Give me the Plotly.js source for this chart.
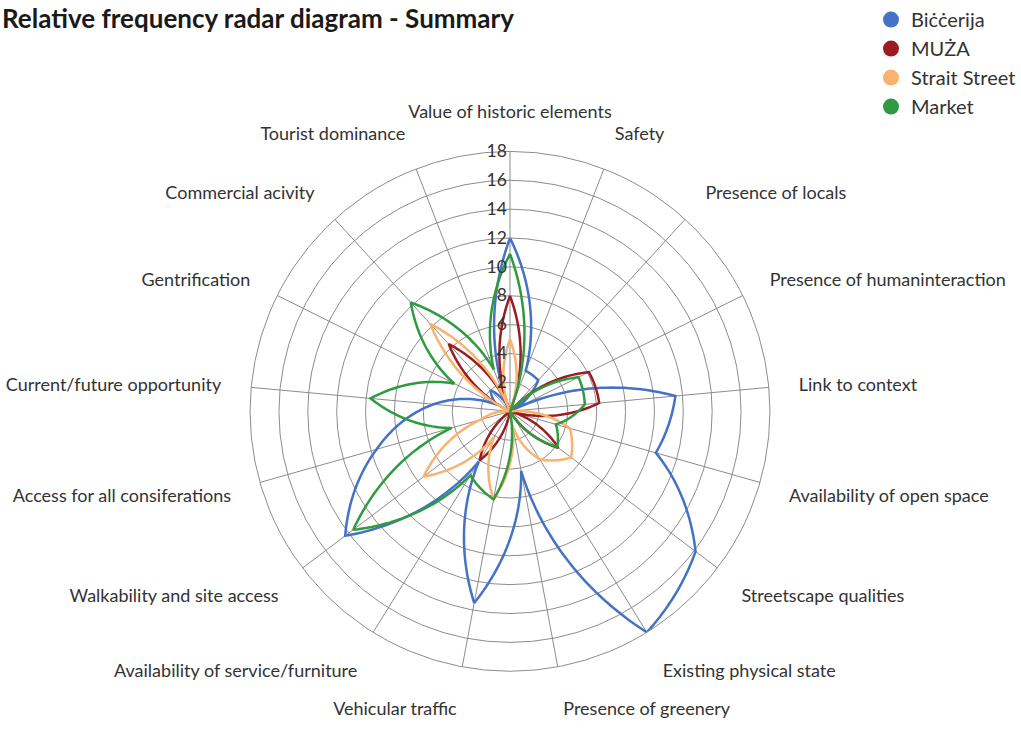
<!DOCTYPE html>
<html><head><meta charset="utf-8">
<script src="https://cdn.plot.ly/plotly-3.0.1.min.js"></script>
<style>html,body{margin:0;padding:0;background:#fff}#chart{width:1021px;height:740px}</style>
</head><body><div id="chart"></div>
<script>
// ---- data ----
const categories = ["Value of historic elements","Safety","Presence of locals","Presence of humaninteraction","Link to context","Availability of open space","Streetscape qualities","Existing physical state","Presence of greenery","Vehicular traffic","Availability of service/furniture","Walkability and site access","Access for all consiferations","Current/future opportunity","Gentrification","Commercial acivity","Tourist dominance"];
const seriesNames = ["Biċċerija","MUŻA","Strait Street","Market"];
const bicceria     = [12, 3.0, 2.9, 0, 11.5, 10.5, 16.1, 18, 4.2, 13.5, 4.1, 14.3, 9.6, 5.3, 1.0, 2.0, 0];
const muza         = [8, 0, 0, 6.1, 6.2, 0, 4.2, 0, 0, 0, 4.0, 0, 0, 0, 0, 6.3, 0];
const straitStreet = [5, 0, 0, 0, 0, 4.3, 5.3, 3.9, 1.0, 6.2, 2.1, 7.5, 2.1, 0, 0, 8.2, 0];
const market       = [10.9, 0, 0, 5.3, 5.2, 3.3, 4.1, 0, 0, 6.2, 5.2, 13.6, 4.2, 9.7, 4.3, 10.2, 3.1];
const radialTicks = [2,4,6,8,10,12,14,16,18];
const chartTitle = "Relative frequency radar diagram - Summary";

// ---- styling ----
const seriesData = [bicceria, muza, straitStreet, market];
const colors = ["#4472C4", "#9C1C20", "#F9B36E", "#2F9A3F"];
const N = categories.length;
const step = 360 / N;
const categoryAngles = categories.map((c, i) => i * step);

// The original chart joins neighbouring values with straight lines in polar
// (angle, radius) space, so each joint looks like a spiral arc on screen.
// Plotly joins points with screen-space straight lines, so each joint is traced
// as a polar-linear path between the two read values (the line's shape only).
const SEG = 30;
function polarLinearPath(vals) {
  const r = [], theta = [];
  for (let i = 0; i < N; i++) {
    const a = vals[i], b = vals[(i + 1) % N];
    for (let k = 0; k < SEG; k++) {
      const t = k / SEG;
      r.push(a + (b - a) * t);
      theta.push(categoryAngles[i] + step * t);
    }
  }
  r.push(vals[0]); theta.push(360);
  return {r, theta};
}

const traces = [];
seriesData.forEach((vals, i) => {
  const p = polarLinearPath(vals);
  traces.push({
    type: 'scatterpolar', r: p.r, theta: p.theta, thetaunit: 'degrees',
    mode: 'lines', name: seriesNames[i], showlegend: false, hoverinfo: 'skip',
    line: {color: colors[i], width: 2.5}
  });
});
seriesData.forEach((vals, i) => {
  traces.push({
    type: 'scatterpolar', r: [null], theta: [null], mode: 'markers',
    name: seriesNames[i], showlegend: true,
    marker: {size: 17, color: colors[i]}
  });
});

const W = 1021, H = 740, cx = 510, cy = 410, R = 261;
const layout = {
  width: W, height: H,
  margin: {l: 0, r: 0, t: 0, b: 0},
  paper_bgcolor: '#fff',
  font: {family: 'Lato, "Open Sans", sans-serif', color: '#333'},
  annotations: [{
    text: chartTitle, xref: 'paper', yref: 'paper', x: 0, y: 1, xanchor: 'left', yanchor: 'top', yshift: 3,
    showarrow: false, font: {size: 26, color: '#1a1a1a', family: 'Lato, sans-serif', weight: 'bold'}
  }],
  showlegend: true,
  legend: {x: 1, xanchor: 'right', y: 1.004, yanchor: 'top', font: {size: 20, color: '#333'}, bgcolor: 'rgba(0,0,0,0)'},
  polar: {
    domain: {x: [(cx - R)/W, (cx + R)/W], y: [(H - cy - R)/H, (H - cy + R)/H]},
    bgcolor: 'rgba(0,0,0,0)',
    gridshape: 'circular',
    radialaxis: {range: [0, 18], tickvals: radialTicks, angle: 90, side: 'counterclockwise', showline: false,
                 tickangle: 90, gridcolor: '#8c8c8c', gridwidth: 1, ticks: '',
                 tickfont: {size: 17.5, color: '#333'}},
    angularaxis: {type: 'linear', thetaunit: 'degrees', rotation: 90, direction: 'clockwise',
                  tickmode: 'array', tickvals: categoryAngles, ticktext: categories,
                  gridcolor: '#8c8c8c', linecolor: '#8c8c8c', linewidth: 1,
                  ticks: 'outside', ticklen: 26, tickcolor: 'rgba(0,0,0,0)', tickfont: {size: 18, color: '#333'}}
  }
};
Plotly.newPlot('chart', traces, layout, {displayModeBar: false, staticPlot: true});
</script></body></html>
